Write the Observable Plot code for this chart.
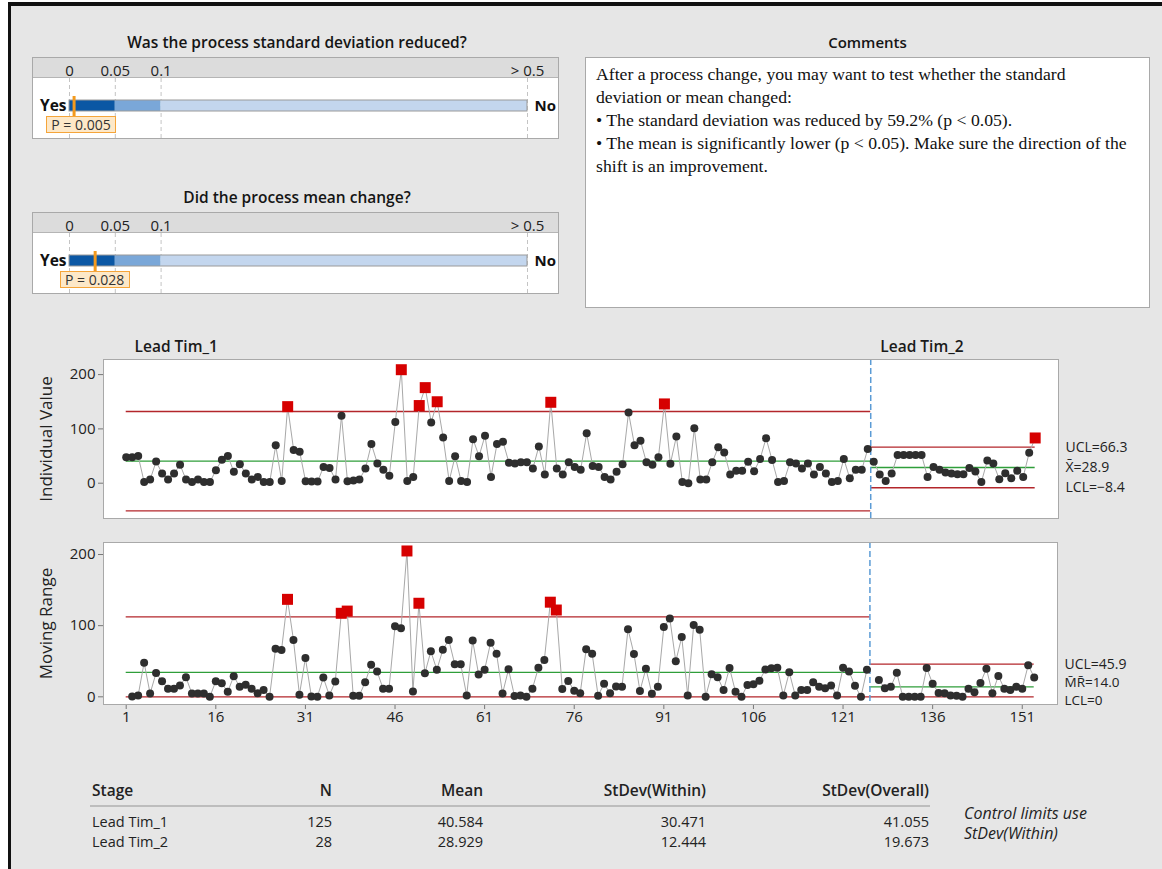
<!DOCTYPE html>
<html><head><meta charset="utf-8">
<script src="https://cdn.jsdelivr.net/npm/d3@7"></script>
<script src="https://cdn.jsdelivr.net/npm/@observablehq/plot@0.6"></script>
<style>
html,body{margin:0;padding:0;background:#fff;}
#page{position:relative;width:1162px;height:869px;overflow:hidden;font-family:"Open Sans",sans-serif;color:#1e1e1e;}
#bg{position:absolute;left:8px;top:2px;width:1160px;height:870px;background:#e6e6e6;border-left:3px solid #111;border-top:4px solid #111;}
.abs{position:absolute;white-space:nowrap;}
.title{position:absolute;font-size:15.5px;font-weight:600;text-align:center;line-height:20px;color:#151515;}
.pbox{position:absolute;box-sizing:border-box;background:#fff;border:1px solid #a9a9a9;}
.pbox .strip{position:absolute;left:0;top:0;right:0;height:19px;background:#dcdcdc;border-bottom:1px solid #b5b5b5;}
.pbox svg{position:absolute;left:0;top:0;}
.plabel{position:absolute;box-sizing:border-box;height:17px;border:1px solid #f5a53a;background:#fde8c8;font-size:14px;line-height:15px;text-align:center;color:#333;}
#comments{position:absolute;left:585px;top:57px;width:565px;height:251px;box-sizing:border-box;background:#fff;border:1px solid #a9a9a9;padding:5px 0 0 10px;font-family:"Liberation Serif","Times New Roman",serif;font-size:17.7px;line-height:23px;color:#111;}
#comments div{white-space:nowrap;}
.tcell{position:absolute;font-size:14px;line-height:18px;white-space:nowrap;color:#222;}
.chart{position:absolute;left:0;}
</style>
</head><body>
<div id="page"><div id="bg"></div></div>
<script>
// ---------------- data ----------------
const stageNames = ["Lead Tim_1", "Lead Tim_2"];
const stage1Values = [
  47.7, 48, 50, 2, 6.6, 40, 18, 6.6, 18, 34,
  6.6, 2, 6.6, 2, 2, 24, 43, 50, 21, 35,
  18, 6.6, 11.5, 2, 2, 69.7, 4, 141, 61, 58,
  3.5, 3, 3, 30, 28, 6.6, 124, 3.5, 5, 6.6,
  27, 72, 36.5, 25, 13.5, 112.7, 209, 4, 11.5, 143,
  176, 112, 150, 84, 4, 49.7, 4, 2, 81, 49.7,
  87.6, 11.5, 72, 76.5, 37.8, 36.5, 38.4, 38.4, 27, 67.7,
  16, 149, 27, 16, 38.4, 30, 25, 92, 31.5, 30,
  11.5, 6.6, 21, 35, 130, 69.7, 78, 38.4, 34, 48,
  146, 36, 86, 2, 0, 101, 6.6, 6.6, 38.4, 66,
  56.5, 16, 23, 23, 39.7, 22, 44.7, 83, 42.8, 2,
  4, 38.4, 36.5, 27, 36.5, 16, 30, 18, 2, 4,
  44.7, 9, 24.7, 24.7, 62.8
];
const stage2Values = [
  39.7, 16, 4, 18, 52, 52, 52, 52, 52, 11.5,
  30, 24.7, 19.7, 18, 16.6, 16.6, 27.8, 21.5, 2, 41.6,
  36.5, 7.2, 18.5, 9, 23, 11.5, 56, 83.3
];
const stageN = [125, 28];
const stageMean = [40.584, 28.929];
const stageSdWithin = [30.471, 12.444];
const stageSdOverall = [41.055, 19.673];

const xTickValues = [1, 16, 31, 46, 61, 76, 91, 106, 121, 136, 151];
const iTickValues = [0, 100, 200];
const mrTickValues = [0, 100, 200];

const pQuestions = ["Was the process standard deviation reduced?", "Did the process mean change?"];
const pValues = [0.005, 0.028];
const pTickValues = [0, 0.05, 0.1, 0.5];
const pTickLabels = ["0", "0.05", "0.1", "> 0.5"];
const pBandEdges = [0, 0.05, 0.1, 0.5];

const commentsTitle = "Comments";
const commentLines = [
  "After a process change, you may want to test whether the standard",
  "deviation or mean changed:",
  "\u2022  The standard deviation was reduced by 59.2% (p < 0.05).",
  "\u2022  The mean is significantly lower (p < 0.05). Make sure the direction of the",
  "shift is an improvement."
];
const tableHeaders = ["Stage", "N", "Mean", "StDev(Within)", "StDev(Overall)"];
const tableNote = ["Control limits use", "StDev(Within)"];

// ---------------- styles ----------------
const RED = "#b3262b", GREEN = "#2f9e3a", DOT = "#2e2e2e", OUT = "#d60000", LINK = "#a8a8a8", DIV = "#5b9bd5";
const bandColors = ["#0b57a4", "#7aa7d8", "#c3d6ee"];
const FONT = "'Open Sans', sans-serif";
const TICK = 15;
const d2 = 1.128, D4 = 3.267;

const page = document.getElementById("page");
function addDiv(cls, css, html) {
  const d = document.createElement("div");
  d.className = cls; d.style.cssText = css; d.innerHTML = html || "";
  page.appendChild(d); return d;
}

// ---------------- p-value panels ----------------
const panelTops = [57, 212];
pQuestions.forEach((q, k) => {
  const top = panelTops[k];
  addDiv("title", `left:32px;width:530px;top:${top - 25}px;`, q);
  const box = addDiv("pbox", `left:32px;top:${top}px;width:527px;height:82px;`, `<div class="strip"></div>`);
  const bands = pBandEdges.slice(0, -1).map((e, j) => ({from: e, to: pBandEdges[j + 1], color: bandColors[j]}));
  const chart = Plot.plot({
    width: 525, height: 80, marginTop: 20, marginBottom: 0, marginLeft: 36, marginRight: 31,
    style: {background: "transparent", fontFamily: FONT, fontSize: "14px", color: "#222", overflow: "visible"},
    x: {domain: [0, 0.5], axis: null},
    y: {domain: [0, 60], range: [20, 80], axis: null},
    color: {type: "identity"},
    marks: [
      Plot.axisX({anchor: "top", ticks: pTickValues, tickFormat: d => pTickLabels[pTickValues.indexOf(d)], tickSize: 0, tickPadding: 3, fontSize: TICK, label: null}),
      Plot.ruleX(pTickValues, {stroke: "#c4c4c4", strokeDasharray: "4,3"}),
      Plot.rect(bands, {x1: "from", x2: "to", y1: 22, y2: 33, fill: d => d.color}),
      Plot.rect([0], {x1: 0, x2: 0.5, y1: 22, y2: 33, fill: "none", stroke: "#9a9a9a"}),
      Plot.ruleX([pValues[k]], {y1: 18, y2: 38, stroke: "#f39a1e", strokeWidth: 3}),
      Plot.text(["Yes"], {text: d => d, x: 0, y: 27.5, dx: -3, textAnchor: "end", fontWeight: 700, fontSize: 15.5, fill: "#111"}),
      Plot.text(["No"], {text: d => d, x: 0.5, y: 27.5, dx: 7, textAnchor: "start", fontWeight: 700, fontSize: 15, fill: "#111"})
    ]
  });
  box.appendChild(chart);
  const sx = chart.scale("x");
  const left = Math.max(sx.apply(pValues[k]) - 35, 13);
  const lab = document.createElement("div");
  lab.className = "plabel";
  lab.style.cssText = `left:${left}px;top:58px;width:70px;`;
  lab.textContent = "P = " + d3.format(".3f")(pValues[k]);
  box.appendChild(lab);
});

// ---------------- comments ----------------
addDiv("title", `left:585px;width:565px;top:32px;font-size:15px;`, commentsTitle);
const cbox = addDiv("", "", "");
cbox.id = "comments";
commentLines.forEach(t => { const d = document.createElement("div"); d.textContent = t; cbox.appendChild(d); });

// ---------------- control chart data ----------------
const allValues = stage1Values.concat(stage2Values);
const n1 = stage1Values.length;
const stageOf = k => (k < n1 ? 0 : 1);
const boundary = n1 + 0.5;
const stageX1 = [1, boundary], stageX2 = [boundary, allValues.length];

const iLimits = stageNames.map((s, k) => ({
  x1: stageX1[k], x2: stageX2[k],
  cl: stageMean[k], ucl: stageMean[k] + 3 * stageSdWithin[k], lcl: stageMean[k] - 3 * stageSdWithin[k]
}));
const mrLimits = stageNames.map((s, k) => {
  const mr = d2 * stageSdWithin[k];
  return {x1: stageX1[k], x2: stageX2[k], cl: mr, ucl: D4 * mr, lcl: 0};
});
const iData = allValues.map((v, k) => {
  const s = stageOf(k);
  return {idx: k + 1, v, stage: s, out: v > iLimits[s].ucl || v < iLimits[s].lcl};
});
const mrData = [];
for (let k = 1; k < allValues.length; k++) {
  const s = stageOf(k);
  if (s !== stageOf(k - 1)) continue;
  const v = Math.abs(allValues[k] - allValues[k - 1]);
  mrData.push({idx: k + 1, v, stage: s, out: v > mrLimits[s].ucl});
}
const f1 = d3.format(".1f");
const last = iLimits.length - 1;
const iRight = [
  {y: iLimits[last].ucl, t: "UCL=" + f1(iLimits[last].ucl), dy: 0, fs: 14},
  {y: iLimits[last].cl, t: "X\u0304=" + f1(iLimits[last].cl), dy: 0, fs: 14},
  {y: iLimits[last].lcl, t: "LCL=" + f1(iLimits[last].lcl), dy: 0, fs: 14}
];
const mrRight = [
  {y: mrLimits[last].ucl, t: "UCL=" + f1(mrLimits[last].ucl), dy: 0, fs: 14},
  {y: mrLimits[last].cl, t: "M\u0304R\u0304=" + f1(mrLimits[last].cl), dy: -4, fs: 13.5},
  {y: mrLimits[last].lcl, t: "LCL=" + d3.format("d")(mrLimits[last].lcl), dy: 4, fs: 13.5}
];
const xDomain = [-2.8, 156.9];

function controlMarks(data, limits, right) {
  return [
    Plot.ruleY(limits, {x1: "x1", x2: "x2", y: "ucl", stroke: RED, strokeWidth: 1.3}),
    Plot.ruleY(limits, {x1: "x1", x2: "x2", y: "lcl", stroke: RED, strokeWidth: 1.3}),
    Plot.ruleY(limits, {x1: "x1", x2: "x2", y: "cl", stroke: GREEN, strokeWidth: 1.3}),
    Plot.ruleX([boundary], {stroke: DIV, strokeWidth: 1.5, strokeDasharray: "6,3"}),
    Plot.line(data, {x: "idx", y: "v", z: "stage", stroke: LINK, strokeWidth: 1}),
    Plot.dot(data.filter(d => !d.out), {x: "idx", y: "v", r: 4, fill: DOT}),
    Plot.dot(data.filter(d => d.out), {x: "idx", y: "v", r: 6.2, symbol: "square", fill: OUT}),
    ...right.map(d => Plot.text([d], {x: xDomain[1], y: "y", text: "t", dx: 7, dy: d.dy, textAnchor: "start", fontSize: d.fs, fill: "#222"}))
  ];
}

// ---------------- I chart ----------------
const iChart = Plot.plot({
  width: 1162, height: 195, marginTop: 29, marginBottom: 7, marginLeft: 103, marginRight: 104,
  style: {background: "transparent", fontFamily: FONT, fontSize: "14px", color: "#222", overflow: "visible"},
  x: {domain: xDomain, axis: null},
  y: {domain: [-65, 227.8]},
  marks: [
    Plot.frame({fill: "#fff", stroke: "none"}),
    Plot.axisY({ticks: iTickValues, tickSize: 5, tickPadding: 3, fontSize: TICK, stroke: "#777", label: "Individual Value", labelAnchor: "center", labelArrow: "none", labelOffset: 64}),
    ...controlMarks(iData, iLimits, iRight),
    Plot.text(stageNames.map((n, k) => ({n, x: stageX1[k] + (k === 0 ? 1.4 : 1.6)})),
      {x: "x", y: 227.8, text: "n", dy: -12, textAnchor: "start", fontWeight: 600, fontSize: 15.5, fill: "#1a1a1a"}),
    Plot.frame({stroke: "#a9a9a9"})
  ]
});
const iWrap = addDiv("chart", "top:330px;", "");
iWrap.appendChild(iChart);

// ---------------- MR chart ----------------
const mrChart = Plot.plot({
  width: 1162, height: 200, marginTop: 7, marginBottom: 31, marginLeft: 103, marginRight: 105,
  style: {background: "transparent", fontFamily: FONT, fontSize: "14px", color: "#222", overflow: "visible"},
  x: {domain: xDomain},
  y: {domain: [-10.8, 216.9]},
  marks: [
    Plot.frame({fill: "#fff", stroke: "none"}),
    Plot.axisY({ticks: mrTickValues, tickSize: 5, tickPadding: 3, fontSize: TICK, stroke: "#777", label: "Moving Range", labelAnchor: "center", labelArrow: "none", labelOffset: 64}),
    Plot.axisX({ticks: xTickValues, tickSize: 5, tickPadding: 2, fontSize: TICK, stroke: "#777", label: null}),
    ...controlMarks(mrData, mrLimits, mrRight),
    Plot.frame({stroke: "#a9a9a9"})
  ]
});
const mrWrap = addDiv("chart", "top:535px;", "");
mrWrap.appendChild(mrChart);

[iChart, mrChart].forEach(c => {
  c.querySelectorAll('g[aria-label="y-axis label"] text').forEach(t => { t.style.fontSize = "17px"; t.style.fontWeight = "500"; });
});

// ---------------- table ----------------
const colRight = [null, 332, 483, 706, 929];
const rowsY = [790, 822, 842];
function cell(text, y, xLeft, xRight, extra) {
  const pos = xRight == null ? `left:${xLeft}px;` : `right:${1162 - xRight}px;`;
  addDiv("tcell", `${pos}top:${y - 9}px;${extra || ""}`, text);
}
tableHeaders.forEach((h, j) => cell(h, rowsY[0], 92, colRight[j], "font-weight:600;font-size:15.5px;"));
addDiv("abs", "left:90px;top:805px;width:840px;height:2px;background:#bdbdbd;", "");
stageNames.forEach((s, k) => {
  const y = rowsY[k + 1];
  cell(s, y, 92, null, "font-size:14.5px;");
  cell(String(stageN[k]), y, 0, colRight[1], "font-size:14.5px;");
  cell(d3.format(".3f")(stageMean[k]), y, 0, colRight[2], "font-size:14.5px;");
  cell(d3.format(".3f")(stageSdWithin[k]), y, 0, colRight[3], "font-size:14.5px;");
  cell(d3.format(".3f")(stageSdOverall[k]), y, 0, colRight[4], "font-size:14.5px;");
});
tableNote.forEach((t, k) => cell(t, 813 + 20 * k, 964, null, "font-style:italic;font-size:16px;line-height:18px;height:18px;"));
</script>
</body></html>
